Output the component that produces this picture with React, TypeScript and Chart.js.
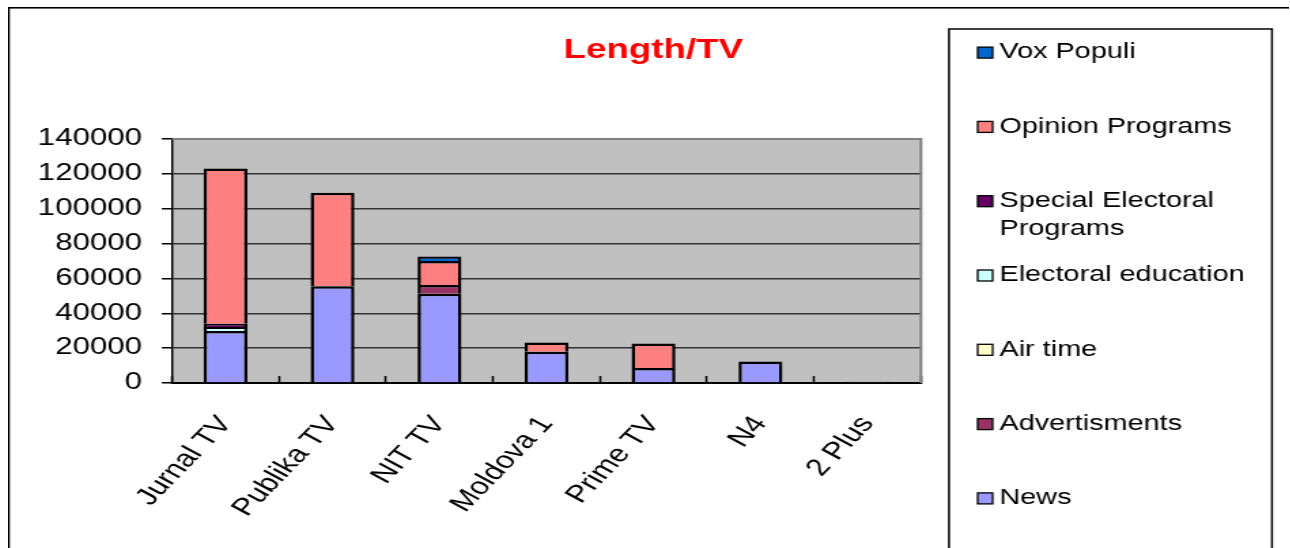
import React, { useEffect, useRef } from "react";
import { Chart, registerables } from "chart.js";

Chart.register(...registerables);

const FONT = "'Liberation Sans', Arial, sans-serif";
Chart.defaults.font.family = FONT;

// Horizontal stretch of the reference picture
const STRETCH = 1.36;
const CANVAS_W = 942;
const CANVAS_H = 541;

// ---- data ----
const categories = ["Jurnal TV", "Publika TV", "NIT TV", "Moldova 1", "Prime TV", "N4", "2 Plus"];
const news = [29800, 55500, 51200, 18000, 8600, 12400, 700];
const advertisments = [0, 0, 5000, 0, 0, 0, 0];
const airTime = [0, 0, 0, 0, 0, 0, 0];
const electoralEducation = [2300, 0, 0, 0, 0, 0, 0];
const specialElectoralPrograms = [1900, 0, 0, 0, 0, 0, 0];
const opinionPrograms = [89100, 53700, 13800, 5300, 14100, 0, 0];
const voxPopuli = [0, 0, 2600, 0, 0, 0, 0];

const seriesNames = [
  "News",
  "Advertisments",
  "Air time",
  "Electoral education",
  "Special Electoral Programs",
  "Opinion Programs",
  "Vox Populi",
];
const seriesValues = [news, advertisments, airTime, electoralEducation, specialElectoralPrograms, opinionPrograms, voxPopuli];
const seriesColors = ["#9999FF", "#993366", "#FFFFCC", "#CCFFFF", "#660066", "#FF8080", "#0066CC"];

const yTicks = { min: 0, max: 140000, step: 20000 };
const chartTitle = "Length/TV";

// ---- layout (canvas px) ----
const PLOT_LEFT = 120.6;
const PLOT_RIGHT = 671.3;
const PLOT_TOP = 132;
const PLOT_BOTTOM = 376;
const PAD_LEFT = 7;
const TITLE_PAD_TOP = 27;

const LEGEND = {
  left: 691.9,
  right: 929.4,
  top: 22,
  firstY: 45.6,
  step: 74.3,
  lineH: 28,
  markerX: 713,
  marker: 11,
  textX: 729,
  fontSize: 21.2,
  maxTextWidth: 190,
};

const framePlugin = {
  id: "frame",
  beforeDraw(chart: any) {
    const { ctx, width, height, chartArea: a } = chart;
    ctx.save();
    ctx.fillStyle = "#FFFFFF";
    ctx.fillRect(0, 0, width, height);
    ctx.fillStyle = "#000000";
    ctx.fillRect(0, 0, width, 1.6);
    ctx.fillRect(0, 0, 1.3, height);
    ctx.fillStyle = "#C0C0C0";
    ctx.fillRect(a.left, a.top, a.right - a.left, a.bottom - a.top);
    ctx.restore();
  },
  beforeDatasetsDraw(chart: any) {
    const { ctx, chartArea: a } = chart;
    ctx.save();
    ctx.strokeStyle = "#808080";
    ctx.lineWidth = 2;
    ctx.beginPath();
    ctx.moveTo(a.left, a.top);
    ctx.lineTo(a.right, a.top);
    ctx.lineTo(a.right, a.bottom);
    ctx.stroke();
    ctx.restore();
  },
};

function wrapText(ctx: CanvasRenderingContext2D, text: string, maxW: number): string[] {
  const words = text.split(" ");
  const lines: string[] = [];
  let cur = "";
  for (const w of words) {
    const test = cur ? cur + " " + w : w;
    if (cur && ctx.measureText(test).width > maxW) {
      lines.push(cur);
      cur = w;
    } else {
      cur = test;
    }
  }
  if (cur) lines.push(cur);
  return lines;
}

const boxLegendPlugin = {
  id: "boxLegend",
  afterDraw(chart: any) {
    const { ctx } = chart;
    const o = LEGEND;
    ctx.save();
    ctx.strokeStyle = "#000";
    ctx.lineWidth = 1.5;
    ctx.strokeRect(o.left, o.top, o.right - o.left, chart.height + 20 - o.top);
    ctx.font = `${o.fontSize}px ${FONT}`;
    ctx.textBaseline = "middle";
    ctx.textAlign = "left";
    const items = chart.data.datasets.map((d: any) => ({ label: d.label, color: d.backgroundColor })).reverse();
    items.forEach((it: any, i: number) => {
      const cy = o.firstY + i * o.step;
      ctx.fillStyle = it.color;
      ctx.fillRect(o.markerX, cy - o.marker / 2, o.marker, o.marker);
      ctx.strokeStyle = "#000";
      ctx.lineWidth = 1.3;
      ctx.strokeRect(o.markerX, cy - o.marker / 2, o.marker, o.marker);
      ctx.fillStyle = "#000";
      const lines = wrapText(ctx, it.label, o.maxTextWidth);
      lines.forEach((ln, j) => ctx.fillText(ln, o.textX, cy + j * o.lineH));
    });
    ctx.restore();
  },
};

export default function App() {
  const ref = useRef<HTMLCanvasElement | null>(null);

  useEffect(() => {
    if (!ref.current) return;
    const chart = new Chart(ref.current, {
      type: "bar",
      data: {
        labels: categories,
        datasets: seriesNames.map((name, i) => ({
          label: name,
          data: seriesValues[i],
          backgroundColor: seriesColors[i],
          borderColor: "#000000",
          borderWidth: 2.5,
          borderSkipped: "start",
          inflateAmount: 0,
          categoryPercentage: 0.41,
          barPercentage: 1,
        })),
      },
      options: {
        responsive: false,
        animation: false,
        devicePixelRatio: 1,
        layout: { padding: { left: PAD_LEFT, right: 0, top: 0, bottom: 0 } },
        plugins: {
          legend: { display: false },
          tooltip: { enabled: false },
          title: {
            display: true,
            text: chartTitle,
            color: "#FF0000",
            font: { size: 27, weight: "bold", family: FONT, lineHeight: 1.2 },
            padding: { top: TITLE_PAD_TOP, bottom: PLOT_TOP - TITLE_PAD_TOP - 27 * 1.2 },
          },
        },
        scales: {
          x: {
            stacked: true,
            offset: true,
            grid: {
              display: true,
              offset: true,
              drawOnChartArea: false,
              drawTicks: true,
              tickLength: -7,
              tickColor: "#000",
              tickWidth: 1.5,
            },
            border: { display: true, color: "#000", width: 2 },
            ticks: {
              autoSkip: false,
              maxRotation: 54,
              minRotation: 54,
              padding: 35,
              color: "#000",
              font: { size: 24, family: FONT },
            },
            afterFit: (s: any) => {
              s.height = CANVAS_H - PLOT_BOTTOM;
            },
          },
          y: {
            stacked: true,
            min: yTicks.min,
            max: yTicks.max,
            ticks: {
              stepSize: yTicks.step,
              padding: 14.5,
              color: "#000",
              font: { size: 23, family: FONT },
              callback: (v: any) => String(v),
            },
            grid: {
              color: (c: any) => (c.tick && c.tick.value === yTicks.max ? "rgba(0,0,0,0)" : "#333333"),
              lineWidth: 1.5,
              drawTicks: true,
              tickLength: 7.5,
              tickColor: "#000",
              tickWidth: 1.5,
            },
            border: { display: true, color: "#000", width: 1.5 },
            afterFit: (s: any) => {
              s.width = PLOT_LEFT - PAD_LEFT;
            },
          },
          yR: {
            type: "linear",
            position: "right",
            display: true,
            grid: { display: false },
            ticks: { display: false },
            border: { display: false },
            afterFit: (s: any) => {
              s.width = CANVAS_W - PLOT_RIGHT;
            },
          },
        },
      } as any,
      plugins: [framePlugin, boxLegendPlugin],
    });
    return () => chart.destroy();
  }, []);

  return (
    <div
      style={{
        position: "fixed",
        left: 8,
        top: 7,
        width: CANVAS_W,
        height: CANVAS_H,
        transform: `scaleX(${STRETCH})`,
        transformOrigin: "0 0",
      }}
    >
      <canvas ref={ref} width={CANVAS_W} height={CANVAS_H} />
    </div>
  );
}
